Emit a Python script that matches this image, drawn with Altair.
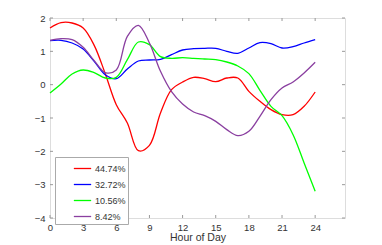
import altair as alt
import pandas as pd

hours = list(range(25))
labels = ["44.74%", "32.72%", "10.56%", "8.42%"]
colors = ["#ff0000", "#0000ff", "#00ff00", "#8a3fa0"]
red = [1.70, 1.86, 1.85, 1.70, 1.18, 0.33, -0.60, -1.15, -1.98, -1.82, -0.85, -0.15, 0.08,
       0.22, 0.18, 0.09, 0.20, 0.20, -0.20, -0.50, -0.75, -0.90, -0.90, -0.65, -0.22]
blue = [1.32, 1.33, 1.25, 1.07, 0.70, 0.30, 0.18, 0.47, 0.71, 0.74, 0.76, 0.90, 1.04,
        1.08, 1.09, 1.09, 1.00, 0.94, 1.10, 1.26, 1.23, 1.10, 1.14, 1.25, 1.35]
green = [-0.25, 0.02, 0.32, 0.44, 0.36, 0.20, 0.22, 0.75, 1.28, 1.20, 0.84, 0.79, 0.81,
         0.79, 0.77, 0.75, 0.68, 0.56, 0.33, -0.17, -0.65, -0.93, -1.50, -2.35, -3.20]
purple = [1.33, 1.38, 1.35, 1.12, 0.72, 0.36, 0.44, 1.45, 1.78, 1.25, 0.40, -0.21, -0.58,
          -0.82, -0.93, -1.10, -1.35, -1.53, -1.40, -0.95, -0.45, -0.10, 0.08, 0.35, 0.67]
x_ticks = [0, 3, 6, 9, 12, 15, 18, 21, 24]
y_ticks = [-4, -3, -2, -1, 0, 1, 2]

series = [red, blue, green, purple]
rows = []
for lab, vals in zip(labels, series):
    for h, v in zip(hours, vals):
        rows.append({"hour": h, "value": v, "series": lab})
df = pd.DataFrame(rows)

xs = alt.Scale(domain=[0, 26.7], nice=False, zero=False)
ys = alt.Scale(domain=[-4, 2], nice=False, zero=False)
W, H = 295, 200
TICK = 3
axis_col = "#999999"

x_axis = alt.Axis(values=x_ticks, title="Hour of Day", ticks=False, domain=False, grid=False,
                  labelPadding=4, labelOverlap=False, labelFlush=False, titlePadding=1,
                  labelFontSize=9.5, titleFontSize=10.5, titleFontWeight="normal",
                  labelColor="#333333", titleColor="#333333",
                  labelFont="Liberation Sans", titleFont="Liberation Sans")
y_axis = alt.Axis(values=y_ticks, title=None, ticks=False, domain=False, grid=False,
                  labelPadding=5, labelFontSize=9.5, labelOverlap=False, labelFlush=False,
                  labelColor="#333333", labelFont="Liberation Sans")

lines = alt.Chart(df).mark_line(strokeWidth=1.3, interpolate="catmull-rom").encode(
    x=alt.X("hour:Q", scale=xs, axis=x_axis, title="Hour of Day"),
    y=alt.Y("value:Q", scale=ys, axis=y_axis, title=None),
    color=alt.Color("series:N", scale=alt.Scale(domain=labels, range=colors), sort=labels,
                    legend=alt.Legend(title=None, orient="none", legendX=5, legendY=139,
                                      symbolType="stroke", symbolSize=300, symbolStrokeWidth=1.3,
                                      symbolOffset=16, labelOffset=3, labelFontSize=9,
                                      labelFont="Liberation Sans", labelColor="#333333",
                                      padding=2, rowPadding=1, strokeColor="#aaaaaa",
                                      fillColor="white",
                                      labelExpr="datum.label + '\u00a0\u00a0\u00a0\u00a0\u00a0'")),
)

xt = pd.DataFrame({"hour": x_ticks})
yt = pd.DataFrame({"value": y_ticks})

bottom_ticks = alt.Chart(xt).mark_rule(color=axis_col, strokeWidth=1).encode(
    x=alt.X("hour:Q", scale=xs, axis=x_axis, title="Hour of Day"), y=alt.value(H), y2=alt.value(H - TICK))
top_ticks = alt.Chart(xt).mark_rule(color=axis_col, strokeWidth=1).encode(
    x=alt.X("hour:Q", scale=xs, axis=x_axis, title="Hour of Day"), y=alt.value(0), y2=alt.value(TICK))
left_ticks = alt.Chart(yt).mark_rule(color=axis_col, strokeWidth=1).encode(
    y=alt.Y("value:Q", scale=ys, axis=y_axis, title=None), x=alt.value(0), x2=alt.value(TICK))
right_ticks = alt.Chart(yt).mark_rule(color=axis_col, strokeWidth=1).encode(
    y=alt.Y("value:Q", scale=ys, axis=y_axis, title=None), x=alt.value(W), x2=alt.value(W - TICK))

chart = alt.layer(lines, bottom_ticks, top_ticks, left_ticks, right_ticks).properties(
    width=W, height=H, autosize=alt.AutoSizeParams(type="none"),
    padding={"left": 42, "top": 10, "right": 20, "bottom": 26},
).configure_view(stroke=axis_col, strokeWidth=1).configure(background="white")

chart.save("out.html", embed_options={"renderer": "svg", "actions": False})
